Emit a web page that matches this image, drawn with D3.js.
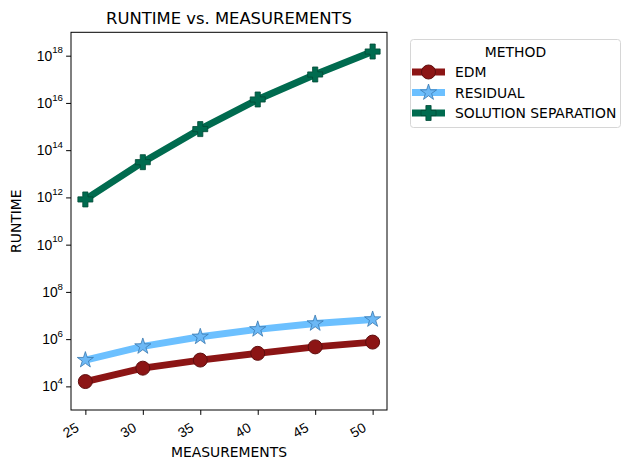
<!DOCTYPE html>
<html><head><meta charset="utf-8">
<script src="https://cdn.jsdelivr.net/npm/d3@7/dist/d3.min.js"></script>
<style>body{margin:0;background:#fff}svg{display:block;font-family:"DejaVu Sans",sans-serif}</style>
</head><body><svg id="c" width="630" height="470"></svg>
<script>
const measurements = [25, 30, 35, 40, 45, 50];
const edm = [1.6e4, 5.9e4, 1.3e5, 2.5e5, 4.7e5, 7.5e5];
const residual = [1.3e5, 4.9e5, 1.26e6, 2.6e6, 4.6e6, 6.8e6];
const solutionSeparation = [8.2e11, 3.1e13, 7.8e14, 1.4e16, 1.6e17, 1.5e18];
const seriesNames = ["EDM", "RESIDUAL", "SOLUTION SEPARATION"];
const yTickExps = [4, 6, 8, 10, 12, 14, 16, 18];

const svg = d3.select("#c");
const L = 71, R = 387, T = 32.3, B = 410;
const x = d3.scaleLinear().domain([23.75, 51.25]).range([L, R]);
const y = d3.scaleLog().domain([1e3, 10 ** 18.99]).range([B, T]);

const styles = [
  {line: "#8c1515", fill: "#8c1515", edge: "#5e0e0e", marker: "circle"},
  {line: "#6cc0ff", fill: "#6cb8f5", edge: "#3a78b0", marker: "star"},
  {line: "#006b4f", fill: "#006b4f", edge: "#004a36", marker: "plus"}
];
const data = [edm, residual, solutionSeparation];

function starPath(Ro) {
  const Ri = Ro * 0.382; let p = [];
  for (let i = 0; i < 10; i++) {
    const r = i % 2 ? Ri : Ro; const a = -Math.PI / 2 + i * Math.PI / 5;
    p.push([r * Math.cos(a), r * Math.sin(a)]);
  }
  return "M" + p.map(d => d.join(",")).join("L") + "Z";
}
function plusPath(h, w) {
  return `M${-w},${-h}H${w}V${-w}H${h}V${w}H${w}V${h}H${-w}V${w}H${-h}V${-w}H${-w}Z`;
}
function drawMarker(g, kind, s) {
  if (kind === "circle") g.append("circle").attr("r", 7).attr("fill", s.fill).attr("stroke", s.edge).attr("stroke-width", 1);
  else if (kind === "star") g.append("path").attr("d", starPath(8.5)).attr("fill", s.fill).attr("stroke", s.edge).attr("stroke-width", 0.8);
  else g.append("path").attr("d", plusPath(7.5, 2.6)).attr("fill", s.fill).attr("stroke", s.edge).attr("stroke-width", 0.8);
}

// frame
svg.append("rect").attr("x", L).attr("y", T).attr("width", R - L).attr("height", B - T)
  .attr("fill", "none").attr("stroke", "#000").attr("stroke-width", 1);

// y axis
const yAxis = d3.axisLeft(y).tickValues(yTickExps.map(e => 10 ** e)).tickSize(4.9).tickPadding(4).tickFormat("");
const yg = svg.append("g").attr("transform", `translate(${L},0)`).call(yAxis);
yg.select(".domain").remove();
yg.selectAll(".tick line").attr("stroke", "#000");
yg.selectAll(".tick").each(function(d) {
  const t = d3.select(this).append("text").attr("x", -8).attr("dy", "0.32em")
    .attr("text-anchor", "end").attr("fill", "#000").attr("font-size", 13.9);
  t.append("tspan").text("10");
  t.append("tspan").attr("font-size", 9.7).attr("dy", "-0.75em").text(Math.round(Math.log10(d)));
});

// x axis
const xAxis = d3.axisBottom(x).tickValues(measurements).tickSize(4.9).tickPadding(3).tickFormat(d3.format("d"));
const xg = svg.append("g").attr("transform", `translate(0,${B})`).call(xAxis);
xg.select(".domain").remove();
xg.selectAll(".tick line").attr("stroke", "#000");
xg.selectAll(".tick text").attr("font-size", 13.9).attr("fill", "#000").attr("text-anchor", "end")
  .attr("dy", "0").attr("y", 0).attr("transform", "translate(-6,20.5) rotate(-30)");

// lines
data.forEach((vals, i) => {
  const s = styles[i];
  const line = d3.line().x((d, j) => x(measurements[j])).y(d => y(d));
  svg.append("path").datum(vals).attr("d", line).attr("fill", "none")
    .attr("stroke", s.line).attr("stroke-width", 6.9).attr("stroke-linejoin", "round");
  vals.forEach((v, j) => {
    const g = svg.append("g").attr("transform", `translate(${x(measurements[j])},${y(v)})`);
    drawMarker(g, s.marker, s);
  });
});

// titles
svg.append("text").attr("x", (L + R) / 2).attr("y", 24).attr("text-anchor", "middle")
  .attr("font-size", 16.4).attr("fill", "#000").text("RUNTIME vs. MEASUREMENTS");
svg.append("text").attr("x", (L + R) / 2).attr("y", 457).attr("text-anchor", "middle")
  .attr("font-size", 13.9).attr("fill", "#000").text("MEASUREMENTS");
svg.append("text").attr("transform", `translate(21,${(T + B) / 2}) rotate(-90)`).attr("text-anchor", "middle")
  .attr("font-size", 13.9).attr("fill", "#000").text("RUNTIME");

// legend
const lg = svg.append("g");
lg.append("rect").attr("x", 410.5).attr("y", 39.5).attr("width", 210).attr("height", 88).attr("rx", 3)
  .attr("fill", "#fff").attr("stroke", "#d6d6d6").attr("stroke-width", 1);
lg.append("text").attr("x", 515.5).attr("y", 57).attr("text-anchor", "middle").attr("font-size", 13.9)
  .attr("fill", "#000").text("METHOD");
seriesNames.forEach((n, i) => {
  const cy = 72 + i * 20.5, s = styles[i];
  lg.append("line").attr("x1", 412).attr("x2", 445).attr("y1", cy).attr("y2", cy)
    .attr("stroke", s.line).attr("stroke-width", 6.9);
  drawMarker(lg.append("g").attr("transform", `translate(428.5,${cy})`), s.marker, s);
  lg.append("text").attr("x", 455).attr("y", cy).attr("dy", "0.36em").attr("font-size", 13.9)
    .attr("fill", "#000").text(n);
});
</script></body></html>
